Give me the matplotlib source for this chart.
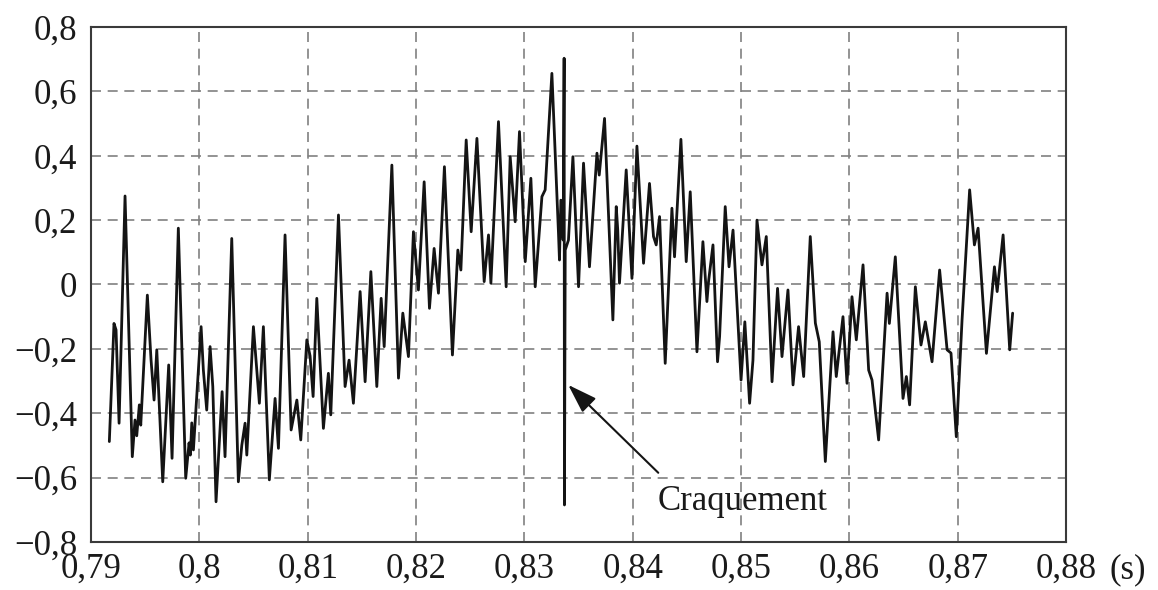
import matplotlib
matplotlib.use("Agg")
import matplotlib.pyplot as plt

# Signal turning points (time in s, amplitude)
time_s = [
    0.79169, 0.79212, 0.79231, 0.79259, 0.79314, 0.79381, 0.79406, 0.79422, 0.79446, 0.79459,
    0.79520, 0.79554, 0.79582, 0.79607, 0.79662, 0.79717, 0.79748, 0.79806, 0.79874, 0.79905,
    0.79917, 0.79930, 0.79945, 0.80016, 0.80037, 0.80068, 0.80099, 0.80124, 0.80154, 0.80210,
    0.80237, 0.80299, 0.80360, 0.80392, 0.80422, 0.80438, 0.80499, 0.80554, 0.80591, 0.80646,
    0.80699, 0.80730, 0.80791, 0.80847, 0.80900, 0.80936, 0.80992, 0.81022, 0.81050, 0.81084,
    0.81145, 0.81191, 0.81213, 0.81284, 0.81345, 0.81382, 0.81422, 0.81484, 0.81530, 0.81583,
    0.81638, 0.81678, 0.81706, 0.81777, 0.81838, 0.81878, 0.81930, 0.81976, 0.82022, 0.82075,
    0.82124, 0.82167, 0.82207, 0.82262, 0.82336, 0.82386, 0.82414, 0.82463, 0.82509, 0.82562,
    0.82629, 0.82669, 0.82691, 0.82761, 0.82832, 0.82869, 0.82915, 0.82955, 0.83008, 0.83060,
    0.83100, 0.83162, 0.83192, 0.83254, 0.83315, 0.83324, 0.83337, 0.83358, 0.83367, 0.83370,
    0.83377, 0.83407, 0.83448, 0.83500, 0.83546, 0.83601, 0.83670, 0.83691, 0.83740, 0.83817,
    0.83848, 0.83862, 0.83878, 0.83940, 0.83993, 0.84039, 0.84100, 0.84155, 0.84192, 0.84217,
    0.84248, 0.84300, 0.84362, 0.84386, 0.84445, 0.84494, 0.84531, 0.84593, 0.84648, 0.84685,
    0.84700, 0.84741, 0.84783, 0.84802, 0.84854, 0.84889, 0.84926, 0.85000, 0.85035, 0.85079,
    0.85110, 0.85147, 0.85193, 0.85233, 0.85286, 0.85337, 0.85378, 0.85433, 0.85480, 0.85531,
    0.85578, 0.85639, 0.85686, 0.85722, 0.85778, 0.85849, 0.85879, 0.85941, 0.85978, 0.86024,
    0.86064, 0.86126, 0.86178, 0.86209, 0.86270, 0.86348, 0.86369, 0.86424, 0.86495, 0.86526,
    0.86556, 0.86609, 0.86661, 0.86701, 0.86763, 0.86833, 0.86902, 0.86938, 0.86987, 0.87040,
    0.87110, 0.87154, 0.87188, 0.87265, 0.87339, 0.87364, 0.87419, 0.87480, 0.87507,
]
amplitude = [
    -0.488, -0.121, -0.141, -0.431, 0.275, -0.535, -0.421, -0.470, -0.374, -0.437,
    -0.033, -0.234, -0.359, -0.203, -0.613, -0.250, -0.540, 0.175, -0.602, -0.492,
    -0.530, -0.430, -0.514, -0.131, -0.266, -0.390, -0.193, -0.317, -0.675, -0.333,
    -0.535, 0.143, -0.613, -0.499, -0.431, -0.530, -0.131, -0.369, -0.131, -0.607,
    -0.354, -0.509, 0.154, -0.452, -0.359, -0.483, -0.172, -0.222, -0.348, -0.043,
    -0.447, -0.276, -0.405, 0.216, -0.317, -0.235, -0.369, -0.022, -0.302, 0.040,
    -0.317, -0.043, -0.193, 0.371, -0.291, -0.089, -0.224, 0.164, -0.017, 0.319,
    -0.074, 0.112, -0.027, 0.366, -0.219, 0.107, 0.045, 0.449, 0.164, 0.454,
    0.009, 0.154, 0.004, 0.506, -0.007, 0.397, 0.195, 0.475, 0.071, 0.330,
    -0.007, 0.273, 0.294, 0.656, 0.159, 0.076, 0.262, 0.138, 0.703, -0.685,
    0.107, 0.138, 0.397, -0.007, 0.377, 0.055, 0.408, 0.340, 0.516, -0.110,
    0.242, 0.169, 0.004, 0.356, 0.019, 0.430, 0.066, 0.314, 0.149, 0.123,
    0.211, -0.245, 0.237, 0.086, 0.451, 0.071, 0.288, -0.209, 0.133, -0.053,
    0.009, 0.123, -0.240, -0.162, 0.242, 0.055, 0.169, -0.297, -0.116, -0.369,
    -0.235, 0.200, 0.061, 0.149, -0.302, -0.012, -0.224, -0.017, -0.312, -0.131,
    -0.286, 0.149, -0.120, -0.178, -0.550, -0.147, -0.286, -0.100, -0.307, -0.038,
    -0.172, 0.061, -0.266, -0.297, -0.483, -0.027, -0.121, 0.086, -0.354, -0.286,
    -0.374, -0.007, -0.188, -0.116, -0.240, 0.045, -0.203, -0.213, -0.473, -0.110,
    0.294, 0.123, 0.175, -0.214, 0.055, -0.022, 0.154, -0.203, -0.089,
]

x_ticks = [0.79, 0.80, 0.81, 0.82, 0.83, 0.84, 0.85, 0.86, 0.87, 0.88]
x_tick_labels = ["0,79", "0,8", "0,81", "0,82", "0,83", "0,84", "0,85", "0,86", "0,87", "0,88"]
y_ticks = [-0.8, -0.6, -0.4, -0.2, 0.0, 0.2, 0.4, 0.6, 0.8]
y_tick_labels = ["\u22120,8", "\u22120,6", "\u22120,4", "\u22120,2", "0", "0,2", "0,4", "0,6", "0,8"]

crackle_label = "Craquement"
crackle_tip = (0.83405, -0.312)
crackle_tail = (0.84236, -0.585)
crackle_text_pos = (0.84227, -0.675)

plt.rcParams["font.family"] = ["Liberation Serif", "DejaVu Serif"]
plt.rcParams["font.size"] = 25

fig = plt.figure(figsize=(11.58, 5.90), dpi=100)
ax = fig.add_axes([0.0786, 0.0814, 0.8420, 0.8728])

ax.plot(time_s, amplitude, color="#141414", lw=2.0,
        solid_joinstyle="round", solid_capstyle="round")

ax.set_xlim(0.79, 0.88)
ax.set_ylim(-0.8, 0.8)
ax.set_xticks(x_ticks)
ax.set_xticklabels(x_tick_labels)
ax.set_yticks(y_ticks)
ax.set_yticklabels(y_tick_labels)
ax.tick_params(axis="both", length=0, labelsize=25, colors="#1a1a1a")
ax.tick_params(axis="x", pad=8)
ax.tick_params(axis="y", pad=10)

ax.grid(True, color="#808080", lw=1.2, linestyle=(0, (6, 4)))
ax.set_axisbelow(True)
for spine in ax.spines.values():
    spine.set_color("#3a3a3a")
    spine.set_linewidth(1.5)

# unit after the last tick label
ax.annotate("(s)", xy=(1, 0), xycoords="axes fraction",
            xytext=(31, -8), textcoords="offset points",
            ha="left", va="top", fontsize=25, color="#1a1a1a")

ax.annotate("", xy=crackle_tip, xytext=crackle_tail,
            arrowprops=dict(arrowstyle="-|>,head_length=0.9,head_width=0.3",
                            color="#141414", lw=1.5, mutation_scale=20,
                            shrinkA=0, shrinkB=0))
ax.text(crackle_text_pos[0], crackle_text_pos[1], crackle_label,
        ha="left", va="center", fontsize=25, color="#1a1a1a")

fig.savefig("out.png", dpi=100)
